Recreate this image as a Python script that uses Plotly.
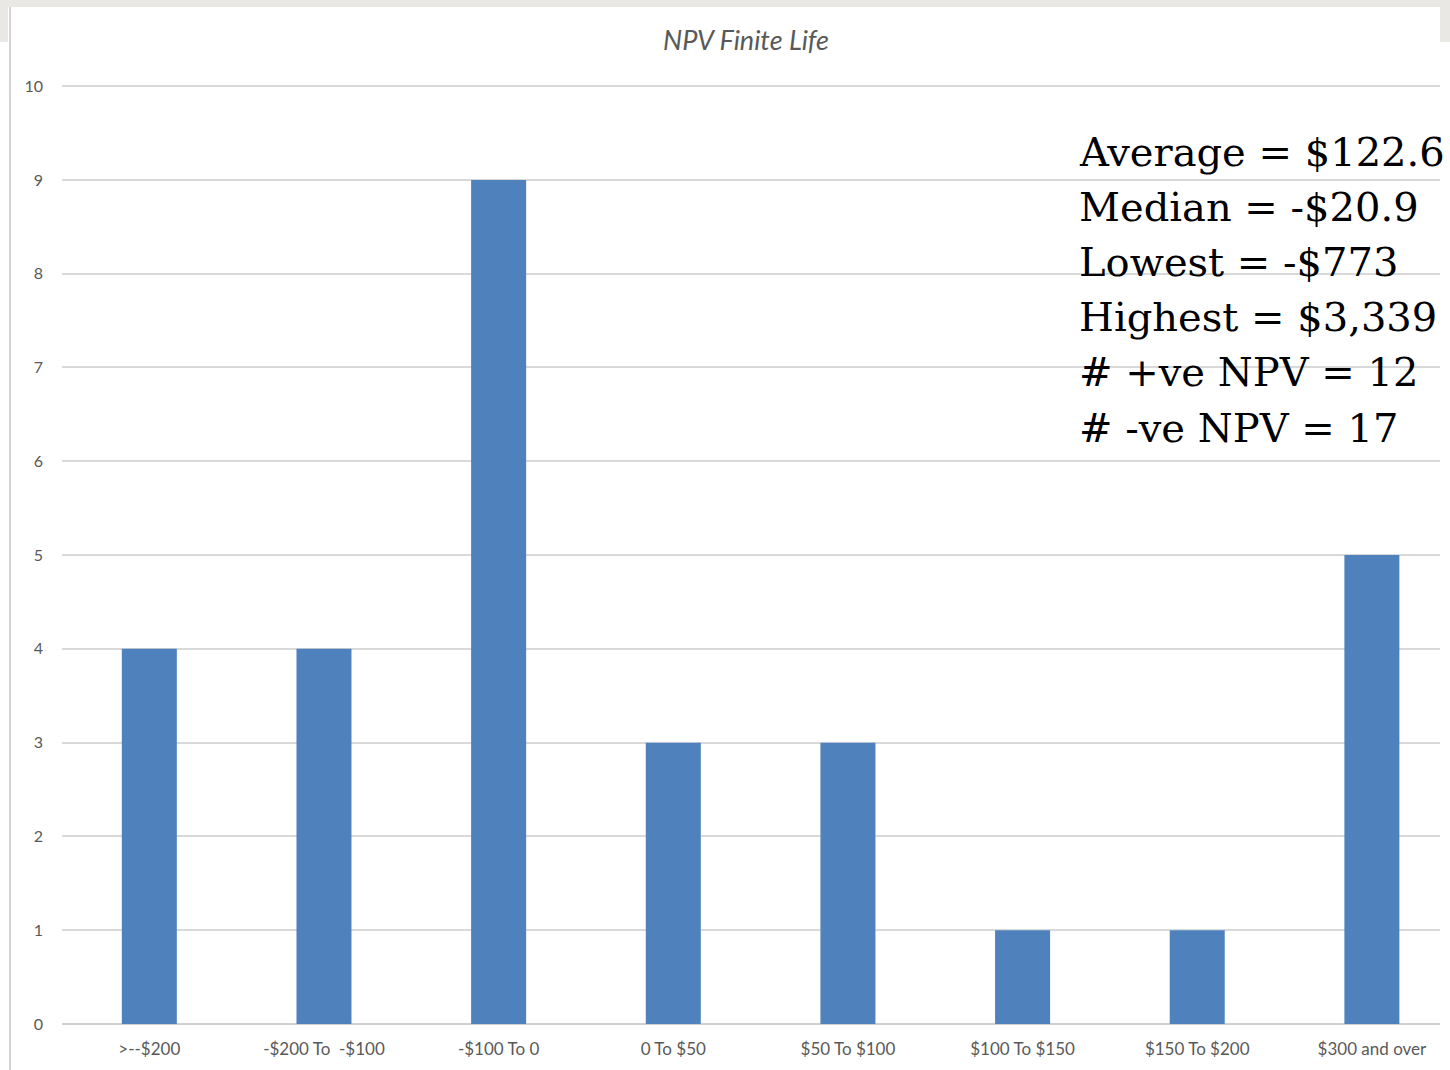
import plotly.graph_objects as go

categories = [">--$200", "-$200 To  -$100", "-$100 To 0", "0 To $50",
              "$50 To $100", "$100 To $150", "$150 To $200", "$300 and over"]
counts = [4, 4, 9, 3, 3, 1, 1, 5]
y_ticks = list(range(0, 11))

stat_labels = ["Average", "Median", "Lowest", "Highest", "# +ve NPV", "# -ve NPV"]
stat_values = ["$122.6", "-$20.9", "-$773", "$3,339", "12", "17"]

W, H = 1450, 1070
L, R, T, B = 62, 10, 85, 46
Y_TOP = 10.012

fig = go.Figure()
fig.add_trace(go.Bar(
    x=list(range(len(categories))), y=counts,
    marker=dict(color="#4f81bd", line=dict(width=0)),
    width=0.315, hoverinfo="skip",
))

px_w = W - L - R
px_h = H - T - B
def px_x(p):
    return (p - L) / px_w
def px_y(p):
    return (H - B - p) / px_h

tex = "#e9e8e4"
shapes = [
    dict(type="rect", xref="paper", yref="paper", x0=px_x(0), x1=px_x(W),
         y0=px_y(7), y1=px_y(0), fillcolor=tex, line=dict(width=0), layer="below"),
    dict(type="rect", xref="paper", yref="paper", x0=px_x(0), x1=px_x(8),
         y0=px_y(42), y1=px_y(0), fillcolor=tex, line=dict(width=0), layer="below"),
    dict(type="rect", xref="paper", yref="paper", x0=px_x(1440), x1=px_x(1450),
         y0=px_y(42), y1=px_y(0), fillcolor=tex, line=dict(width=0), layer="below"),
    dict(type="line", xref="paper", yref="paper", x0=px_x(10), x1=px_x(10),
         y0=px_y(1070), y1=px_y(7), line=dict(color="#d4d4d4", width=2), layer="below"),
]

annotations = []
line_centers = [152, 207, 262, 317, 372, 428]
for lab, val, yc in zip(stat_labels, stat_values, line_centers):
    annotations.append(dict(
        text=f"{lab} = {val}", xref="paper", yref="paper",
        x=px_x(1077), y=px_y(yc), xanchor="left", yanchor="middle",
        showarrow=False, font=dict(family="DejaVu Serif", size=40, color="#000000"),
    ))

fig.update_layout(
    width=W, height=H,
    margin=dict(l=L, r=R, t=T, b=B, pad=0),
    paper_bgcolor="white", plot_bgcolor="white",
    showlegend=False,
    title=dict(text="<i>NPV Finite Life</i>", xref="container", yref="container",
               x=746 / W, y=1 - 41 / H, xanchor="center", yanchor="middle",
               font=dict(family="Lato", size=27, color="#595959")),
    xaxis=dict(
        tickmode="array", tickvals=list(range(len(categories))), ticktext=categories,
        range=[-0.5, 7.39], showgrid=False, zeroline=False, showline=False,
        ticks="", ticklabelstandoff=13,
        tickfont=dict(family="Lato", size=17, color="#595959"),
    ),
    yaxis=dict(
        range=[0, Y_TOP], tickvals=y_ticks, showgrid=True, gridcolor="#d9d9d9", gridwidth=1.5,
        zeroline=True, zerolinecolor="#d0d0d0", zerolinewidth=1.5,
        showline=False, ticks="", ticklabelstandoff=18,
        tickfont=dict(family="Lato", size=16, color="#595959"),
    ),
    shapes=shapes,
    annotations=annotations,
    bargap=0.685,
)

fig.write_html("out.html")
